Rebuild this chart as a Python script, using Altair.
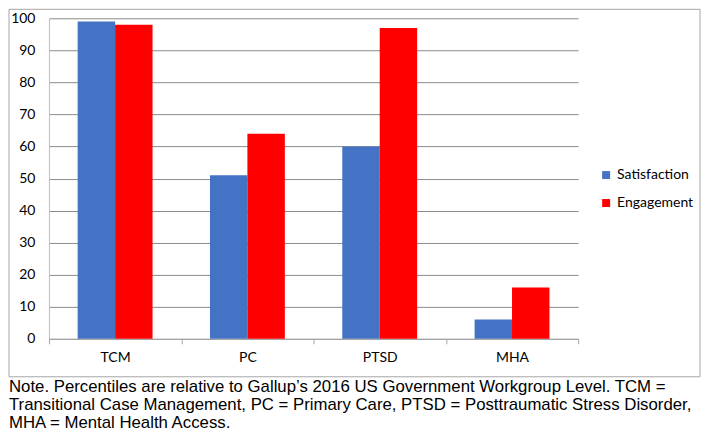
import altair as alt
import pandas as pd

categories = ["TCM", "PC", "PTSD", "MHA"]
series = ["Satisfaction", "Engagement"]
satisfaction = [99, 51, 60, 6]
engagement = [98, 64, 97, 16]
y_ticks = list(range(0, 101, 10))
colors = ["#4472C4", "#FF0000"]
note_lines = [
    "Note. Percentiles are relative to Gallup\u2019s 2016 US Government Workgroup Level. TCM =",
    "Transitional Case Management, PC = Primary Care, PTSD = Posttraumatic Stress Disorder,",
    "MHA = Mental Health Access.",
]

rows = []
for c, s, e in zip(categories, satisfaction, engagement):
    rows.append({"category": c, "series": series[0], "value": s})
    rows.append({"category": c, "series": series[1], "value": e})
df = pd.DataFrame(rows)

bars = alt.Chart(df).mark_bar().encode(
    x=alt.X(
        "category:N",
        sort=categories,
        scale=alt.Scale(paddingInner=0, paddingOuter=0),
        axis=alt.Axis(
            title=None, labelAngle=0, tickBand="extent", ticks=True, tickSize=5,
            tickColor="#a6a6a6", domainColor="#a6a6a6", labelPadding=7,
            labelFont="Lato", labelFontSize=14, labelColor="#000000", grid=False,
        ),
    ),
    xOffset=alt.XOffset("series:N", sort=series,
                        scale=alt.Scale(paddingInner=0, paddingOuter=0.767)),
    y=alt.Y(
        "value:Q",
        scale=alt.Scale(domain=[0, 100]),
        axis=alt.Axis(
            values=y_ticks, title=None, ticks=False, domainColor="#bfbfbf",
            gridColor="#8c8c8c", labelPadding=14, labelFont="Lato",
            labelFontSize=14, labelColor="#000000", minExtent=40, maxExtent=40,
        ),
    ),
    color=alt.Color(
        "series:N", sort=series,
        scale=alt.Scale(domain=series, range=colors),
        legend=alt.Legend(
            title=None, orient="none", legendX=551, legendY=150,
            symbolType="square", symbolSize=64, symbolStrokeWidth=0,
            labelFont="Lato", labelFontSize=14, labelColor="#000000",
            rowPadding=14, labelOffset=4,
        ),
    ),
)

frame_df = pd.DataFrame({"k": [0]})
frame = alt.Chart(frame_df).mark_rect(fill=None, stroke="#a6a6a6", strokeWidth=1).encode(
    x=alt.value(-40), x2=alt.value(652), y=alt.value(-9), y2=alt.value(359)
)

note = alt.Chart(frame_df).mark_text(
    align="left", baseline="alphabetic", fontSize=16.8, lineHeight=18,
    font="Liberation Sans", color="#000000",
).encode(x=alt.value(-40), y=alt.value(374), text=alt.value(note_lines))

chart = alt.layer(frame, bars, note).properties(
    width=530, height=321,
    padding={"left": 0, "top": 0, "right": 0, "bottom": 0},
).configure_view(stroke=None)

chart.save("out.html", embed_options={"renderer": "svg", "actions": False})
